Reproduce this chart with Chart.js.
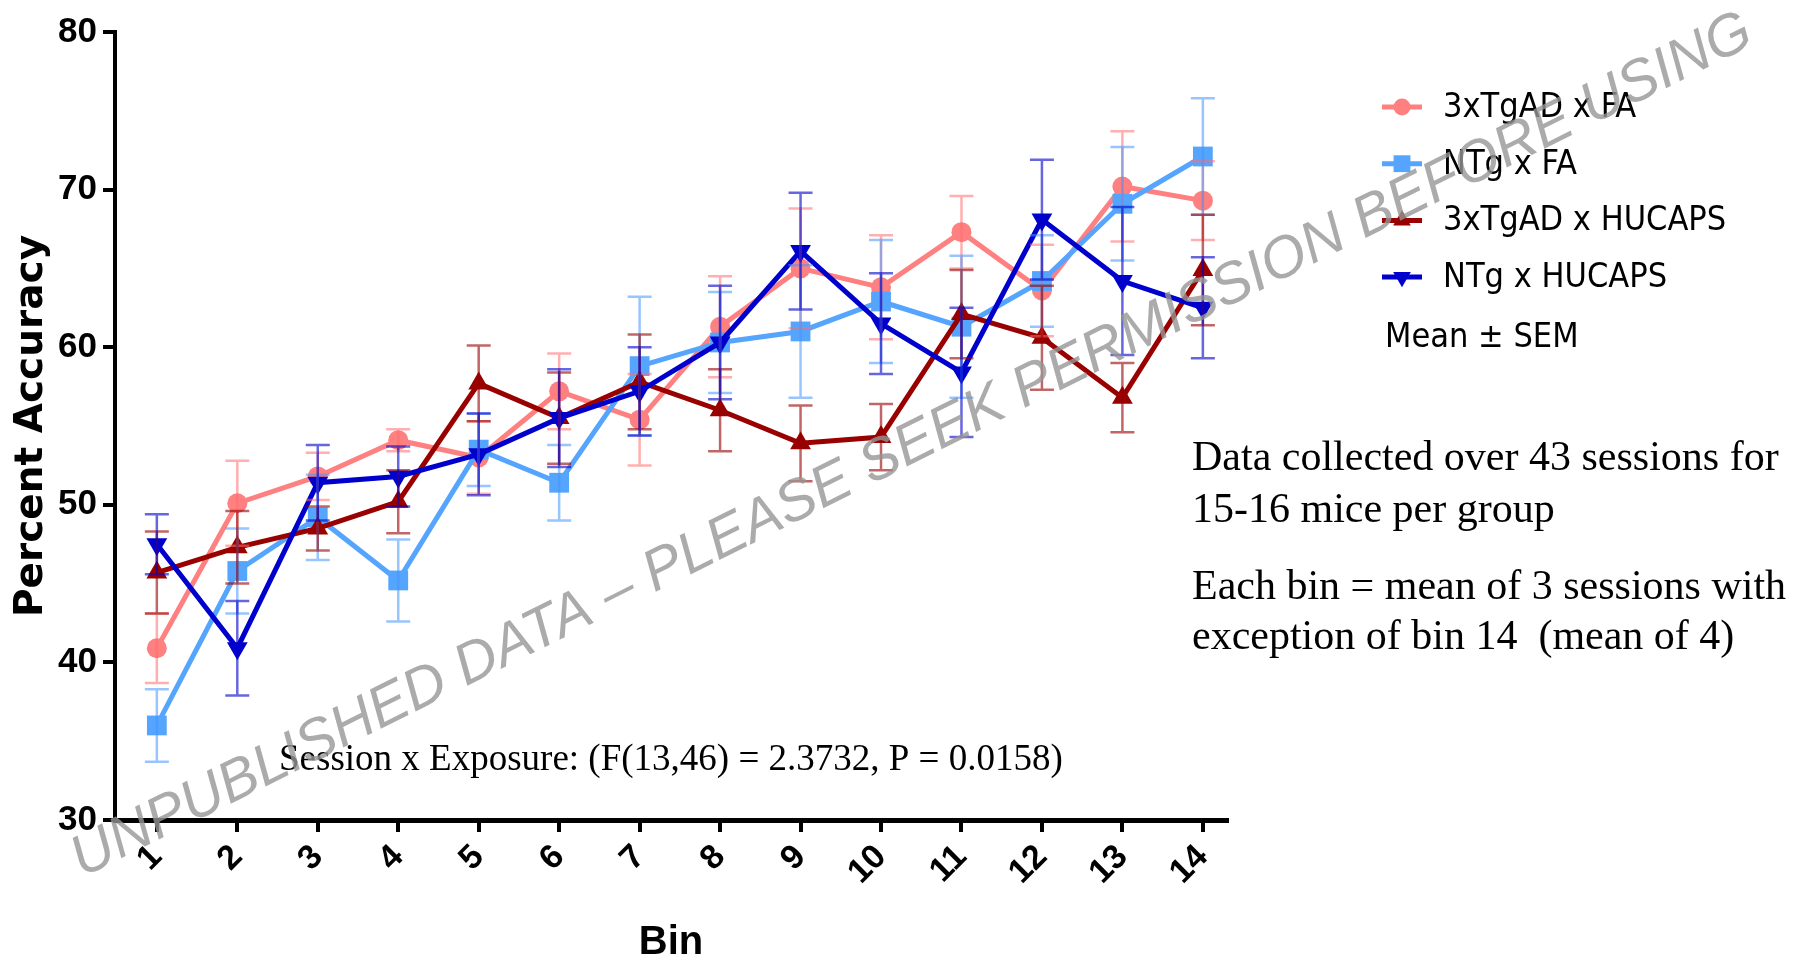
<!DOCTYPE html>
<html>
<head>
<meta charset="utf-8">
<title>Percent Accuracy by Bin</title>
<script src="https://cdn.jsdelivr.net/npm/chart.js@4.4.1/dist/chart.umd.min.js"></script>
<style>
  html, body { margin: 0; padding: 0; background: #fff; }
  #wrap { width: 1810px; height: 963px; position: relative; }
</style>
</head>
<body>
<div id="wrap"><canvas id="accuracyChart"></canvas></div>
<script>
// Percent accuracy per bin (mean +/- SEM) for the four groups
const bins = [1, 2, 3, 4, 5, 6, 7, 8, 9, 10, 11, 12, 13, 14];

const tgFA = [40.9, 50.1, 51.8, 54.1, 53.0, 57.2, 55.4, 61.3, 65.0, 63.8, 67.3, 63.6, 70.2, 69.3];
const tgFAsem = [2.2, 2.7, 1.5, 0.7, 2.3, 2.4, 2.9, 3.2, 3.8, 3.3, 2.3, 2.9, 3.5, 2.5];

const ntgFA = [36.0, 45.8, 49.2, 45.2, 53.5, 51.4, 58.8, 60.3, 61.0, 62.9, 61.3, 64.2, 69.1, 72.1];
const ntgFAsem = [2.3, 2.7, 2.7, 2.6, 2.3, 2.4, 4.4, 3.2, 4.2, 3.9, 4.5, 2.9, 3.6, 3.7];

const tgHU = [45.7, 47.3, 48.5, 50.2, 57.7, 55.5, 57.8, 56.0, 53.9, 54.3, 62.1, 60.6, 56.8, 64.9];
const tgHUsem = [2.6, 2.3, 1.4, 2.0, 2.4, 2.9, 3.0, 2.6, 2.4, 2.1, 2.8, 3.3, 2.2, 3.5];

const ntgHU = [47.5, 40.9, 51.4, 51.8, 53.2, 55.5, 57.2, 60.3, 66.1, 61.5, 58.4, 68.1, 64.2, 62.5];
const ntgHUsem = [1.9, 3.0, 2.4, 1.9, 2.6, 3.1, 2.8, 3.6, 3.7, 3.2, 4.1, 3.8, 4.7, 3.2];

const groupNames = ['3xTgAD x FA', 'NTg x FA', '3xTgAD x HUCAPS', 'NTg x HUCAPS'];
const yTicks = [30, 40, 50, 60, 70, 80];

const statNote = 'Session x Exposure: (F(13,46) = 2.3732, P = 0.0158)';
const sideNotes = [
  'Data collected over 43 sessions for',
  '15-16 mice per group',
  'Each bin = mean of 3 sessions with',
  'exception of bin 14  (mean of 4)'
];
const watermark = 'UNPUBLISHED DATA \u2013 PLEASE SEEK PERMISSION BEFORE USING';

const narrow = "'Liberation Sans Narrow', 'DejaVu Sans Condensed', 'Arial Narrow', sans-serif";
const arial = "'Liberation Sans', Arial, sans-serif";
const serif = "'Liberation Serif', 'Times New Roman', serif";

function points(vals) {
  return bins.map((b, i) => ({ x: b, y: vals[i] }));
}

function series(label, vals, sem, color, errColor, style, radius, rotation, order) {
  return {
    label: label,
    data: points(vals),
    sem: sem,
    borderColor: color,
    backgroundColor: color,
    errorColor: errColor,
    borderWidth: 5,
    pointStyle: style,
    pointRadius: radius,
    pointRotation: rotation,
    pointBorderWidth: 0,
    tension: 0,
    order: order
  };
}

// error bars, drawn through the chart's own scales
const errorBars = {
  id: 'errorBars',
  afterDatasetsDraw(chart) {
    const { ctx, scales: { x, y } } = chart;
    chart.data.datasets.forEach((ds) => {
      ctx.save();
      ctx.strokeStyle = ds.errorColor;
      ctx.lineWidth = 2.5;
      ctx.beginPath();
      ds.data.forEach((p, i) => {
        const px = x.getPixelForValue(p.x);
        const top = y.getPixelForValue(p.y + ds.sem[i]);
        const bot = y.getPixelForValue(p.y - ds.sem[i]);
        ctx.moveTo(px, top); ctx.lineTo(px, bot);
        ctx.moveTo(px - 12, top); ctx.lineTo(px + 12, top);
        ctx.moveTo(px - 12, bot); ctx.lineTo(px + 12, bot);
      });
      ctx.stroke();
      ctx.restore();
    });
  }
};

// legend, notes and watermark
const extras = {
  id: 'extras',
  afterDraw(chart) {
    const ctx = chart.ctx;
    ctx.save();

    // legend
    chart.data.datasets.forEach((ds, i) => {
      const yy = 107 + i * 56.7;
      ctx.strokeStyle = ds.borderColor;
      ctx.lineWidth = 5;
      ctx.beginPath();
      ctx.moveTo(1382, yy);
      ctx.lineTo(1422, yy);
      ctx.stroke();
      ctx.fillStyle = ds.backgroundColor;
      Chart.helpers.drawPoint(ctx, {
        pointStyle: ds.pointStyle,
        rotation: ds.pointRotation,
        radius: ds.pointRadius * 0.85,
        borderWidth: 0
      }, 1402, yy);
      ctx.fillStyle = '#000';
      ctx.font = '34px ' + narrow;
      ctx.textAlign = 'left';
      ctx.textBaseline = 'middle';
      ctx.fillText(ds.label, 1443, yy + 1);
    });
    ctx.fillText('Mean \u00b1 SEM', 1385, 338);

    // notes
    ctx.font = '42px ' + serif;
    ctx.fillText(sideNotes[0], 1192, 459);
    ctx.fillText(sideNotes[1], 1192, 511);
    ctx.fillText(sideNotes[2], 1192, 588);
    ctx.fillText(sideNotes[3], 1192, 638);
    ctx.font = '37px ' + serif;
    ctx.fillText(statNote, 279, 760);

    // watermark
    ctx.translate(912, 446);
    ctx.rotate(-26.5 * Math.PI / 180);
    ctx.font = 'italic 58px ' + arial;
    ctx.textAlign = 'center';
    ctx.fillStyle = 'rgba(150,150,150,0.8)';
    ctx.fillText(watermark, 0, 0);
    ctx.restore();
  }
};

const ctx = document.getElementById('accuracyChart').getContext('2d');
const accuracyChart = new Chart(ctx, {
  type: 'line',
  data: {
    datasets: [
      series(groupNames[0], tgFA, tgFAsem, '#ff8080', 'rgba(255,110,110,0.55)', 'circle', 10, 0, 3),
      series(groupNames[1], ntgFA, ntgFAsem, '#55a5ff', 'rgba(70,150,255,0.55)', 'rect', 14, 0, 2),
      series(groupNames[2], tgHU, tgHUsem, '#990000', 'rgba(150,0,0,0.6)', 'triangle', 12, 0, 1),
      series(groupNames[3], ntgHU, ntgHUsem, '#0000cc', 'rgba(0,0,200,0.6)', 'triangle', 12, 180, 0)
    ]
  },
  options: {
    responsive: true,
    maintainAspectRatio: false,
    animation: false,
    layout: { padding: { left: 0, top: 32, right: 583, bottom: 0 } },
    plugins: {
      legend: { display: false },
      tooltip: { enabled: false }
    },
    scales: {
      x: {
        type: 'linear',
        min: 0.48,
        max: 14.3,
        afterBuildTicks: (s) => { s.ticks = bins.map(v => ({ value: v })); },
        afterFit: (s) => { s.height = 143; },
        border: { display: true, color: '#000', width: 5 },
        grid: { display: true, drawOnChartArea: false, drawTicks: true, tickLength: 12, color: '#000', lineWidth: 4 },
        ticks: {
          color: '#000',
          minRotation: 45,
          maxRotation: 45,
          padding: 5,
          font: { family: arial, size: 34, weight: 'bold' }
        },
        title: {
          display: true,
          text: 'Bin',
          color: '#000',
          padding: { top: 0, bottom: 0 },
          font: { family: arial, size: 40, weight: 'bold', lineHeight: 1 }
        }
      },
      y: {
        min: 30,
        max: 80,
        afterBuildTicks: (s) => { s.ticks = yTicks.map(v => ({ value: v })); },
        afterFit: (s) => { s.width = 115; },
        border: { display: true, color: '#000', width: 4 },
        grid: { display: true, drawOnChartArea: false, drawTicks: true, tickLength: 12, color: '#000', lineWidth: 4 },
        ticks: {
          color: '#000',
          padding: 6,
          font: { family: arial, size: 35, weight: 'bold' }
        },
        title: {
          display: true,
          text: 'Percent Accuracy',
          color: '#000',
          padding: { top: 8, bottom: 0 },
          font: { family: "'DejaVu Sans', sans-serif", size: 39, weight: 'bold', lineHeight: 1.2 }
        }
      }
    }
  },
  plugins: [errorBars, extras]
});
</script>
</body>
</html>
